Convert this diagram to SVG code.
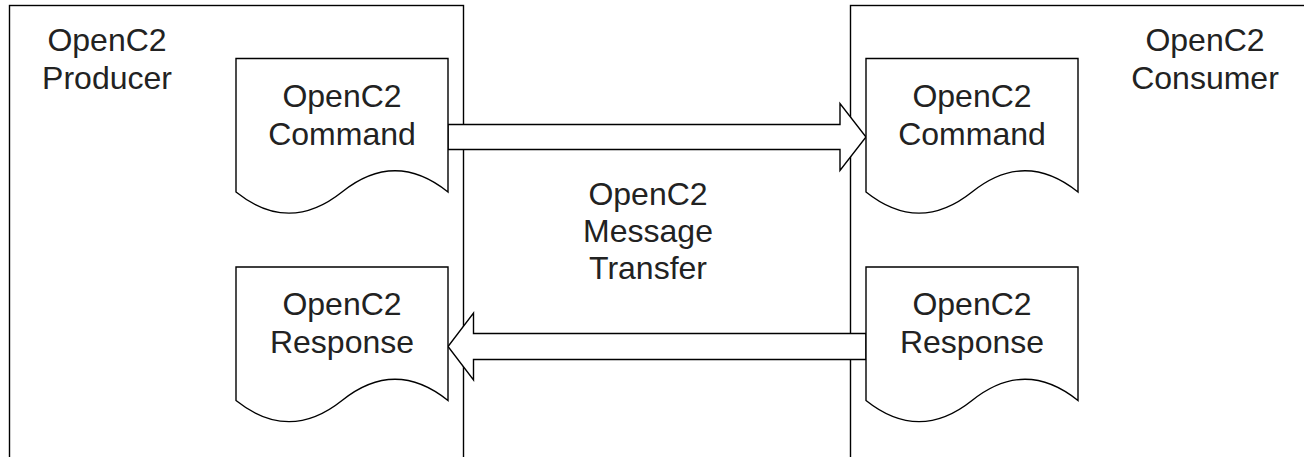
<svg xmlns="http://www.w3.org/2000/svg" width="1304" height="457" viewBox="0 0 1304 457">
<style>
.box{fill:#fff;stroke:#000;stroke-width:1.4}
.doc{fill:#fff;stroke:#000;stroke-width:1.4}
.arrow{fill:#fff;stroke:#000;stroke-width:1.4;stroke-linejoin:miter}
text{font-family:"Liberation Sans",Arial,Helvetica,sans-serif;font-size:32px;fill:#222;text-anchor:middle}
</style>
<rect width="1304" height="457" fill="#fff"/>
<g id="producer">
<rect class="box" x="9.5" y="5.5" width="454" height="470"/>
<text x="107" y="51">OpenC2</text>
<text x="107" y="88.5">Producer</text>
</g>
<g id="consumer">
<rect class="box" x="850.5" y="5.5" width="470" height="470"/>
<text x="1205" y="51">OpenC2</text>
<text x="1205" y="88.5">Consumer</text>
</g>
<g id="transfer">
<text x="648" y="205">OpenC2</text>
<text x="648" y="241.5">Message</text>
<text x="648" y="278.5">Transfer</text>
</g>
<g id="connectors">
<polygon class="arrow" points="448,124.5 840,124.5 840,103.5 866,137 840,170.5 840,149.5 448,149.5"/>
<polygon class="arrow" points="866,333.5 473.5,333.5 473.5,313 448,346.5 473.5,380 473.5,359.5 866,359.5"/>
</g>
<g id="producer-command">
<path class="doc" d="M236,58.5 H448 V192 Q395,149.5 342,192 Q289,234.3 236,192 Z"/>
<text x="342" y="107">OpenC2</text>
<text x="342" y="145">Command</text>
</g>
<g id="consumer-command">
<path class="doc" d="M866,58.5 H1078 V192 Q1025,149.5 972,192 Q919,234.3 866,192 Z"/>
<text x="972" y="107">OpenC2</text>
<text x="972" y="145">Command</text>
</g>
<g id="producer-response">
<path class="doc" d="M236,267 H448 V400.5 Q395,358 342,400.5 Q289,442.8 236,400.5 Z"/>
<text x="342" y="315">OpenC2</text>
<text x="342" y="353">Response</text>
</g>
<g id="consumer-response">
<path class="doc" d="M866,267 H1078 V400.5 Q1025,358 972,400.5 Q919,442.8 866,400.5 Z"/>
<text x="972" y="315">OpenC2</text>
<text x="972" y="353">Response</text>
</g>
</svg>
